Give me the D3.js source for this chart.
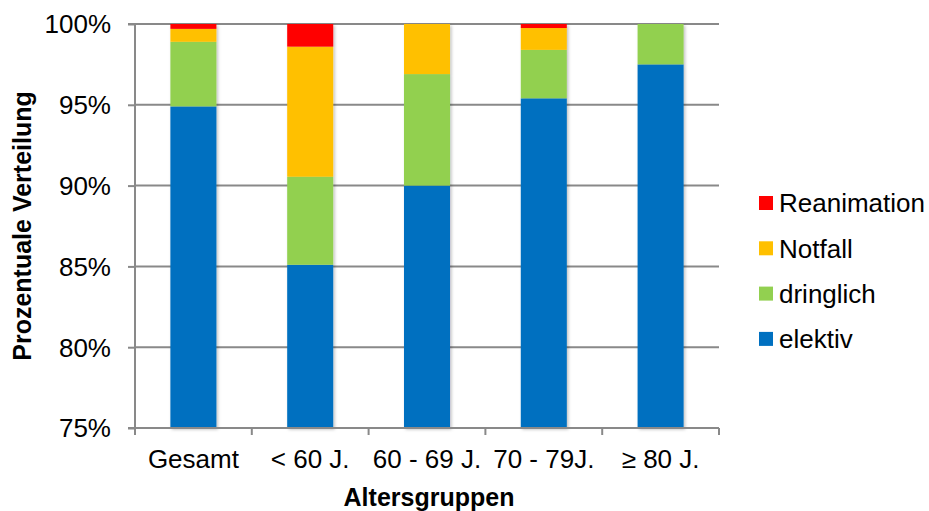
<!DOCTYPE html>
<html>
<head>
<meta charset="utf-8">
<script src="https://cdn.jsdelivr.net/npm/d3@7"></script>
<style>
  html, body { margin: 0; padding: 0; background: #fff; }
  svg { display: block; font-family: "Liberation Sans", Arial, sans-serif; }
</style>
</head>
<body>
<svg id="chart" width="929" height="511"></svg>
<script>
// Age groups and distribution of urgency levels (percent)
const categories = ["Gesamt", "< 60 J.", "60 - 69 J.", "70 - 79J.", "\u2265 80 J."];
const elektiv     = [94.9, 85.1, 90.0, 95.4, 97.5];
const dringlich   = [4.0, 5.45, 6.9, 3.0, 2.5];
const notfall     = [0.8, 8.05, 3.1, 1.35, 0.0];
const reanimation = [0.3, 1.4, 0.0, 0.25, 0.0];
const seriesNames = ["elektiv", "dringlich", "Notfall", "Reanimation"];
const seriesColors = ["#0070C0", "#92D050", "#FFC000", "#FF0000"];
const yTicks = [75, 80, 85, 90, 95, 100];

(function () {
const svg = d3.select("#chart");
const plotL = 135, plotR = 719, plotT = 24, plotB = 428;
const FONT = "Liberation Sans, Arial, sans-serif";

const x = d3.scaleBand().domain(categories).range([plotL, plotR]).paddingInner(0.606).paddingOuter(0.303);
const y = d3.scaleLinear().domain([75, 100]).range([plotB, plotT]);

const rows = categories.map((c, i) => ({
  cat: c, elektiv: elektiv[i], dringlich: dringlich[i], Notfall: notfall[i], Reanimation: reanimation[i]
}));
const stacked = d3.stack().keys(seriesNames)(rows);

// soft shadow under the bars
const defs = svg.append("defs");
const f = defs.append("filter").attr("id", "shadow").attr("x", "-20%").attr("y", "-5%").attr("width", "140%").attr("height", "110%");
f.append("feDropShadow").attr("dx", 1.5).attr("dy", 1.5).attr("stdDeviation", 1.5).attr("flood-color", "#000").attr("flood-opacity", 0.25);

// horizontal gridlines
svg.append("g").selectAll("line").data(yTicks).join("line")
  .attr("x1", plotL).attr("x2", plotR)
  .attr("y1", d => y(d)).attr("y2", d => y(d))
  .attr("stroke", "#898989").attr("stroke-width", 2);

// bars, clipped to the visible value range
const [yMin, yMax] = y.domain();
const barG = svg.append("g").attr("filter", "url(#shadow)");
stacked.forEach((s, si) => {
  barG.append("g").attr("fill", seriesColors[si]).selectAll("rect").data(s).join("rect")
    .attr("x", d => x(d.data.cat))
    .attr("width", x.bandwidth())
    .attr("y", d => y(Math.min(d[1], yMax)))
    .attr("height", d => Math.max(0, y(Math.max(d[0], yMin)) - y(Math.min(d[1], yMax))));
});

// y axis
const yAxis = d3.axisLeft(y).tickValues(yTicks).tickFormat(d => d + "%").tickSize(7).tickPadding(17);
const gy = svg.append("g").attr("transform", `translate(${plotL},0)`).call(yAxis);
gy.select(".domain").attr("stroke", "#898989").attr("stroke-width", 2).attr("d", `M-7,${plotT}H0V${plotB}H-7`);
gy.selectAll(".tick line").attr("stroke", "#898989").attr("stroke-width", 2);
gy.selectAll(".tick text").attr("font-size", 26).attr("fill", "#000").attr("font-family", FONT).attr("dy", "0.34em");

// x axis
const xAxis = d3.axisBottom(x).tickSize(0).tickPadding(24);
const gx = svg.append("g").attr("transform", `translate(0,${plotB})`).call(xAxis);
gx.select(".domain").attr("stroke", "#898989").attr("stroke-width", 2).attr("d", `M${plotL},0H${plotR}`);
gx.selectAll(".tick text").attr("font-size", 26).attr("fill", "#000").attr("font-family", FONT).attr("dy", "0.62em");
// category separators
const step = x.step();
svg.append("g").selectAll("line").data(d3.range(categories.length + 1)).join("line")
  .attr("x1", i => plotL + i * step).attr("x2", i => plotL + i * step)
  .attr("y1", plotB).attr("y2", plotB + 7)
  .attr("stroke", "#898989").attr("stroke-width", 2);

// axis titles
svg.append("text").attr("x", (plotL + plotR) / 2 + 2).attr("y", 506).attr("text-anchor", "middle")
  .attr("font-size", 25).attr("font-weight", "bold").text("Altersgruppen");
svg.append("text").attr("transform", `translate(31,${(plotT + plotB) / 2}) rotate(-90)`).attr("text-anchor", "middle")
  .attr("font-size", 25).attr("font-weight", "bold").text("Prozentuale Verteilung");

// legend (top series first)
const legendOrder = [3, 2, 1, 0];
const lg = svg.append("g");
legendOrder.forEach((si, k) => {
  const cy = 203 + k * 45.3;
  lg.append("rect").attr("x", 759).attr("y", cy - 7).attr("width", 14).attr("height", 14).attr("fill", seriesColors[si]);
  lg.append("text").attr("x", 779).attr("y", cy).attr("dy", "0.36em").attr("font-size", 26).attr("fill", "#000").text(seriesNames[si]);
});
})();
</script>
</body>
</html>
